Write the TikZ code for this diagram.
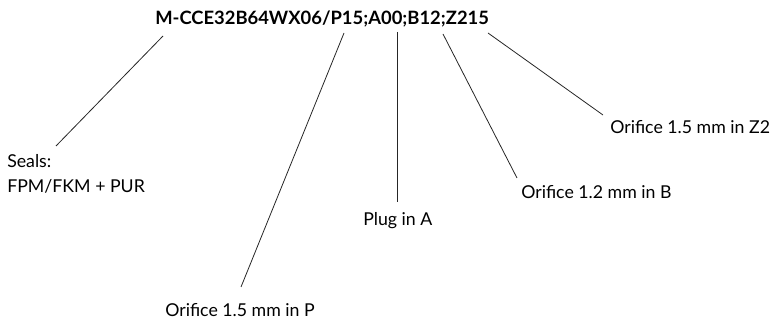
\documentclass[tikz,border=0pt]{standalone}
\usepackage{fontspec}
\setmainfont{Lato}
\usetikzlibrary{calc}

\begin{document}
\begin{tikzpicture}[
    x=0.75pt, y=-0.75pt,
    codetext/.style={inner sep=0pt, anchor=base west, font=\bfseries\fontsize{13.8}{16}\selectfont},
    note/.style={inner sep=0pt, anchor=base west, font=\fontsize{13.3}{16}\selectfont},
    leader/.style={line width=0.6pt, black!85},
]
    \useasboundingbox (0,0) rectangle (776,320);

    % ordering code
    \node (code) [codetext] at (155,25) {M-CCE32B64WX06/P15;A00;B12;Z215};
    \coordinate (tSeal) at ($(code.base west)+(8,11)$);
    \coordinate (tP) at ($(code.base west)+(189,8)$);
    \coordinate (tA) at ($(code.base west)+(242,7)$);
    \coordinate (tB) at ($(code.base west)+(288,9)$);
    \coordinate (tZ) at ($(code.base west)+(333,8)$);

    % explanations
    \node (seals) [note] at (7,168) {Seals:};
    \node (sealmat) [note] at (7,193) {FPM/FKM + PUR};
    \node (orifP) [note] at (165,317) {Orifice 1.5 mm in P};
    \node (plugA) [note] at (363,226) {Plug in A};
    \node (orifB) [note] at (521,199) {Orifice 1.2 mm in B};
    \node (orifZ) [note] at (610,134) {Orifice 1.5 mm in Z2};

    \draw [leader] (tSeal) -- ($(seals.base west)+(49,-22)$);
    \draw [leader] (tP) -- ($(orifP.base west)+(76,-30)$);
    \draw [leader] (tA) -- ($(plugA.base west)+(34,-24)$);
    \draw [leader] (tB) -- ($(orifB.base west)+(-4,-21)$);
    \draw [leader] (tZ) -- ($(orifZ.base west)+(-7,-19)$);

\end{tikzpicture}
\end{document}
